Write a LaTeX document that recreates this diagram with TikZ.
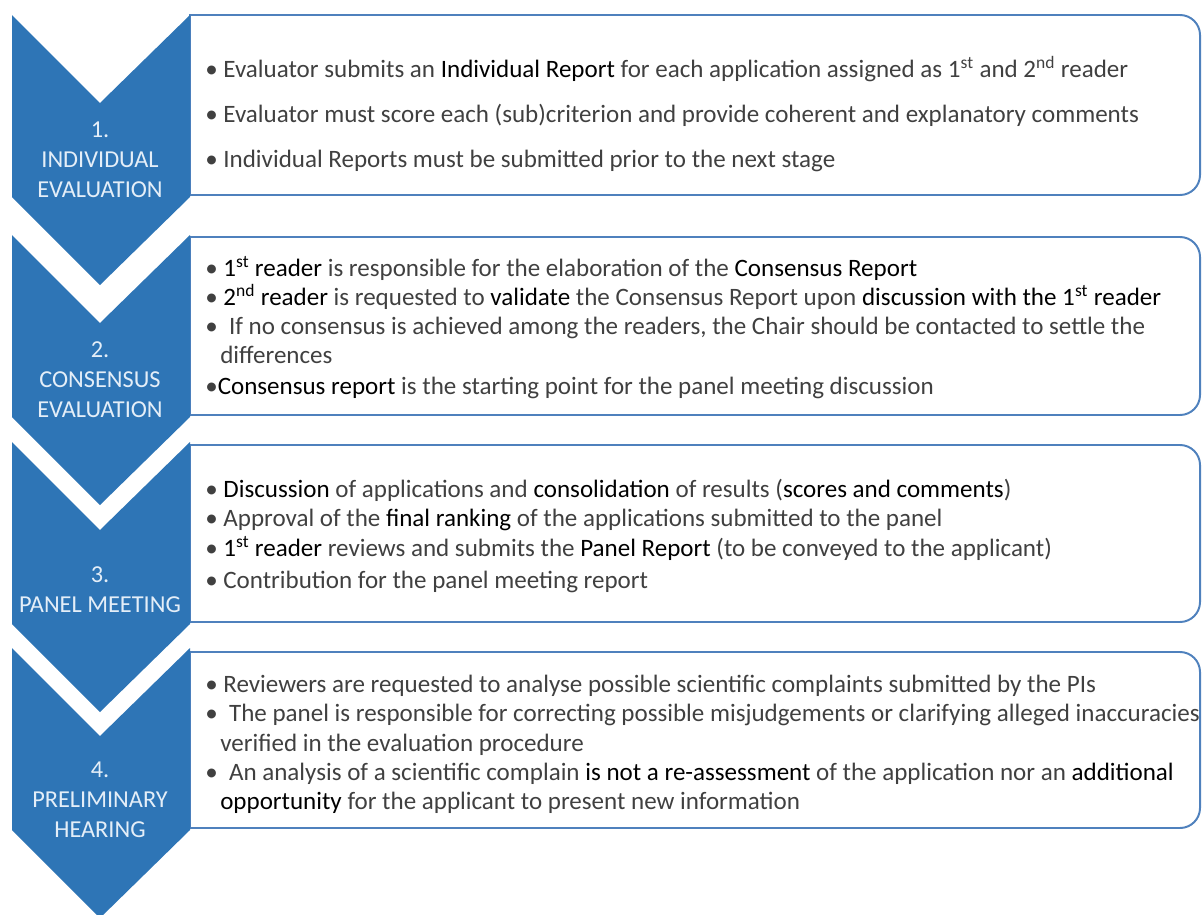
\documentclass[tikz,border=0pt]{standalone}
\usepackage{fontspec}
\setmainfont{Carlito}
\usepackage{tikz}
\usepackage{xcolor}
\usetikzlibrary{positioning}
\definecolor{StageBlue}{HTML}{2E75B6}
\definecolor{StageBorder}{HTML}{4F81BD}
\definecolor{StageLabelText}{HTML}{E4EEF8}
\definecolor{BodyGray}{HTML}{404040}
\tikzstyle{StageChevron} =[fill=StageBlue,draw=none]
\tikzstyle{StageBoxLine} =[draw=StageBorder,line width=1.4pt]
\tikzstyle{StageLabel} =[text=StageLabelText,align=center,inner sep=0pt,font=\fontsize{17.3}{21.3}\selectfont]
\tikzstyle{BulletText} =[anchor=north west,inner sep=0pt,align=left,text=BodyGray,font=\fontsize{17.8}{20.8}\selectfont]
\newcommand{\Emph}[1]{\textcolor{black}{#1}}
\newcommand{\CreateStageChevron}[1]{
    \fill[StageChevron] (12,#1) -- (100,#1+88) -- (190,#1) -- (190,#1+182) -- (100,#1+270) -- (12,#1+182) -- cycle;}
\newcommand{\CreateStageBox}[2]{
    \draw[StageBoxLine] (190,#2) -- (190,#1) -- (600,#1) [rounded corners=0.5cm] -- (1200,#1) -- (1200,#2) -- (600,#2) [sharp corners] -- cycle;}

\begin{document}
\begin{tikzpicture}[x=0.025cm,y=-0.025cm]
    \useasboundingbox (0,0) rectangle (1202,914);

    \CreateStageBox{15}{195}
    \CreateStageBox{237}{415}
    \CreateStageBox{445}{622}
    \CreateStageBox{652}{828}

    \CreateStageChevron{15}
    \CreateStageChevron{235}
    \CreateStageChevron{442}
    \CreateStageChevron{648}

    \node[StageLabel] (Individual-Evaluation-Label) at (100,160) {1.\\INDIVIDUAL\\EVALUATION};
    \node[StageLabel] (Consensus-Evaluation-Label) at (100,380) {2.\\CONSENSUS\\EVALUATION};
    \node[StageLabel] (Panel-Meeting-Label) at (100,590) {3.\\PANEL MEETING};
    \node[StageLabel] (Preliminary-Hearing-Label) at (100,800) {4.\\PRELIMINARY\\HEARING};

    \node[BulletText,font=\fontsize{17.8}{32}\selectfont] (Individual-Evaluation-Text) at (205,56) {%
        • Evaluator submits an \Emph{Individual Report} for each application assigned as 1\textsuperscript{st} and 2\textsuperscript{nd} reader\\
        • Evaluator must score each (sub)criterion and provide coherent and explanatory comments\\
        • Individual Reports must be submitted prior to the next stage};

    \node[BulletText] (Consensus-Evaluation-Text) at (205,256) {%
        • \Emph{1\textsuperscript{st} reader} is responsible for the elaboration of the \Emph{Consensus Report}\\
        • \Emph{2\textsuperscript{nd} reader} is requested to \Emph{validate} the Consensus Report upon \Emph{discussion with the 1\textsuperscript{st} reader}\\
        • ~If no consensus is achieved among the readers, the Chair should be contacted to settle the\\
        \hspace*{0.6em}differences\\[1pt]
        •\Emph{Consensus report} is the starting point for the panel meeting discussion};

    \node[BulletText] (Panel-Meeting-Text) at (205,479) {%
        • \Emph{Discussion} of applications and \Emph{consolidation} of results (\Emph{scores and comments})\\
        • Approval of the \Emph{final ranking} of the applications submitted to the panel\\
        • \Emph{1\textsuperscript{st} reader} reviews and submits the \Emph{Panel Report} (to be conveyed to the applicant)\\[2pt]
        • Contribution for the panel meeting report};

    \node[BulletText] (Preliminary-Hearing-Text) at (205,675) {%
        • Reviewers are requested to analyse possible scientific complaints submitted by the PIs\\
        • ~The panel is responsible for correcting possible misjudgements or clarifying alleged inaccuracies\\
        \hspace*{0.6em}verified in the evaluation procedure\\
        • ~An analysis of a scientific complain \Emph{is not a re-assessment} of the application nor an \Emph{additional}\\
        \hspace*{0.6em}\Emph{opportunity} for the applicant to present new information};
\end{tikzpicture}
\end{document}
